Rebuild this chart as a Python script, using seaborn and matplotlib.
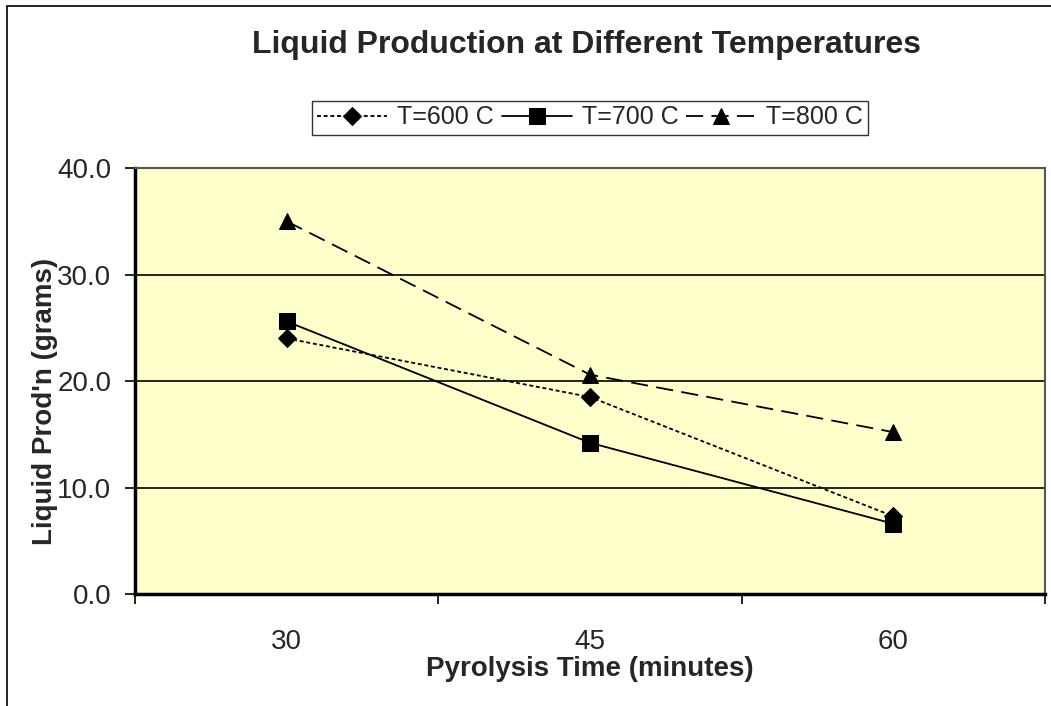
import numpy as np
import pandas as pd
import matplotlib
matplotlib.use('Agg')
import matplotlib.pyplot as plt
import seaborn as sns
from matplotlib.patches import Rectangle

# values
times = ["30", "45", "60"]
t600 = [24.0, 18.5, 7.3]
t700 = [25.6, 14.2, 6.6]
t800 = [35.0, 20.6, 15.2]
series_names = ["T=600 C", "T=700 C", "T=800 C"]

df = pd.DataFrame({
    "Time": times * 3,
    "Liquid": t600 + t700 + t800,
    "Series": [s for s in series_names for _ in times],
})

sns.set_theme(style="white")
plt.rcParams['font.family'] = ['Liberation Sans', 'DejaVu Sans']

fig = plt.figure(figsize=(10.51, 7.06), dpi=100)
ax = fig.add_axes([0.1284, 0.1586, 0.8659, 0.6034])
ax.set_facecolor("#FFFFCC")

styles = {
    "T=600 C": dict(marker="D", markersize=9.5, linestyle=(0, (2.2, 1.5))),
    "T=700 C": dict(marker="s", markersize=11, linestyle="-"),
    "T=800 C": dict(marker="^", markersize=11, linestyle=(0, (9.5, 4.6))),
}

for name in series_names:
    sub = df[df["Series"] == name]
    sns.lineplot(data=sub, x="Time", y="Liquid", ax=ax, color="black",
                 linewidth=1.3, markeredgecolor="black", label=name,
                 sort=False, zorder=3, **styles[name])

ax.set_ylim(0, 40)
ax.set_xlim(-0.5, 2.5)
ax.set_yticks([0, 10, 20, 30, 40])
ax.set_yticklabels([f"{v:.1f}" for v in [0, 10, 20, 30, 40]], fontsize=20)
ax.set_xticks([-0.5, 0.5, 1.5, 2.5])
ax.set_xticklabels([])
ax.set_xticks([0, 1, 2], minor=True)
ax.set_xticklabels(times, minor=True, fontsize=20)
ax.tick_params(axis="x", which="major", direction="out", length=7, width=1.2, color="black", bottom=True)
ax.tick_params(axis="x", which="minor", length=0, pad=25)
ax.tick_params(axis="y", direction="out", length=7, width=1.2, color="black", left=True, pad=10)

ax.grid(False)
for v in [10, 20, 30]:
    ax.axhline(v, color="black", linewidth=1.2, zorder=1)

for side in ["left", "bottom"]:
    ax.spines[side].set_color("black")
    ax.spines[side].set_linewidth(2.5)
for side in ["top", "right"]:
    ax.spines[side].set_color("#555555")
    ax.spines[side].set_linewidth(1.5)

ax.set_xlabel("Pyrolysis Time (minutes)", fontsize=20, fontweight="bold", labelpad=1)
ax.set_ylabel("")
fig.text(45 / 1051, 1 - 401 / 706, "Liquid Prod'n (grams)", rotation=90,
         ha="center", va="center", fontsize=20, fontweight="bold")

fig.text(587 / 1051, 1 - 45 / 706, "Liquid Production at Different Temperatures",
         ha="center", va="center", fontsize=23, fontweight="bold")

ax.get_legend().remove()
handles, labels = ax.get_legend_handles_labels()
leg = fig.legend(handles, labels, loc="center", bbox_to_anchor=(590 / 1051, 1 - 117.5 / 706),
                 ncol=3, fontsize=18, frameon=True, fancybox=False,
                 handlelength=2.8, columnspacing=0.3, handletextpad=0.4,
                 borderpad=0.2, borderaxespad=0)
leg.get_frame().set_edgecolor("black")
leg.get_frame().set_linewidth(1.0)

fig.patches.append(Rectangle((7 / 1051, -0.1), 1.2, 1.1 - 6 / 706, transform=fig.transFigure,
                             fill=False, edgecolor="black", linewidth=1.2))

fig.savefig("out.png", dpi=100)
